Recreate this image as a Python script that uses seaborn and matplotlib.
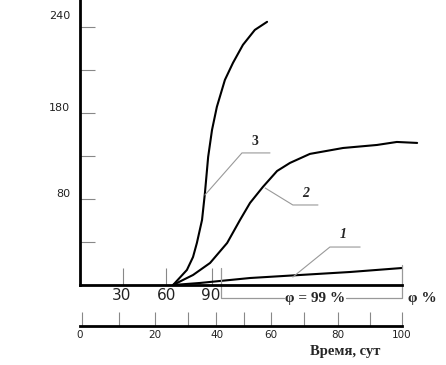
import matplotlib
matplotlib.use('Agg')
import matplotlib.pyplot as plt
import pandas as pd
import seaborn as sns

# curves (time in days, value)
c1_t = [28.9, 37.3, 52.8, 68.3, 83.9, 100.0]
c1_v = [0, 1.9, 6.5, 9.3, 12.1, 15.8]
c2_t = [28.9, 32.0, 35.1, 40.4, 45.7, 49.7, 52.8, 56.8, 61.2, 65.2, 71.4, 81.7, 92.2, 98.4, 104.7]
c2_v = [0, 4.7, 9.3, 20.5, 39.1, 60.5, 76.3, 91.2, 106.0, 113.5, 121.9, 127.4, 130.2, 133.0, 132.1]
c3_t = [28.9, 33.2, 35.1, 36.3, 37.9, 38.8, 39.8, 41.0, 42.5, 45.0, 47.5, 50.6, 54.3, 58.1]
c3_v = [0, 14.0, 26.0, 39.1, 60.5, 85.6, 119.1, 144.2, 165.6, 190.7, 206.5, 223.3, 237.2, 244.7]

# y axis
ytick_marks = [40, 80, 120, 160, 200, 240]
ylab_pos = [85.6, 165.6, 251.2]
ylab = ['80', '180', '240']

# upper x axis
xtick_marks = [13.4, 26.7, 41.0]
xlab_pos = [13.0, 27.0, 40.7]
xlab = ['30', '60', '90']

# lower time axis
sec_marks = [0, 11.5, 22.7, 33.2, 41.9, 50.6, 59.0, 69.3, 80.1, 90.1, 100]
sec_lab_pos = [-0.6, 22.7, 42.2, 59.0, 80.1, 100]
sec_lab = ['0', '20', '40', '60', '80', '100']

# curve number labels and their leader lines
num_labels = ['3', '2', '1']
num_x = [54.3, 70.2, 81.7]
num_y = [133, 84.7, 46.5]
lead3_x, lead3_y = [38.8, 50.3, 59.0], [83.7, 122.8, 122.8]
lead2_x, lead2_y = [57.5, 66.1, 73.9], [90.2, 74.4, 74.4]
lead1_x, lead1_y = [66.1, 77.6, 87.0], [7.4, 35.3, 35.3]

df = pd.concat([
    pd.DataFrame({'t': c1_t, 'v': c1_v, 'curve': '1'}),
    pd.DataFrame({'t': c2_t, 'v': c2_v, 'curve': '2'}),
    pd.DataFrame({'t': c3_t, 'v': c3_v, 'curve': '3'}),
])

sns.set_theme(style='white')
plt.rcParams['font.family'] = ['DejaVu Sans']

W, H = 446, 365
fig = plt.figure(figsize=(W / 100, H / 100), dpi=100)
ax = fig.add_axes([80 / W, 80 / H, 322 / W, 285 / H])
ax.set_facecolor('none')

sns.lineplot(data=df, x='t', y='v', units='curve', estimator=None, sort=False,
             color='black', lw=1.5, ax=ax, legend=False)
for ln in ax.lines:
    ln.set_clip_on(False)

ax.set_xlim(0, 100)
ax.set_ylim(0, 265)
ax.set_xlabel('')
ax.set_ylabel('')
for s in ['top', 'right']:
    ax.spines[s].set_visible(False)
for s in ['left', 'bottom']:
    ax.spines[s].set_linewidth(2)
    ax.spines[s].set_color('black')

ax.set_yticks(ylab_pos, ylab)
ax.set_yticks(ytick_marks, minor=True)
ax.set_xticks(xlab_pos, xlab)
ax.set_xticks(xtick_marks, minor=True)
ax.tick_params(left=True, bottom=True)
ax.tick_params(axis='y', which='major', length=0, pad=7, labelsize=8, labelcolor='#222')
ax.tick_params(axis='x', which='major', length=0, pad=2, labelsize=11, labelcolor='#222')
ax.tick_params(which='minor', left=True, bottom=True, direction='in', width=0.8, color='#888')
ax.tick_params(axis='y', which='minor', length=11)
ax.tick_params(axis='x', which='minor', length=12)

gray = '#999999'
for lx, ly in [(lead3_x, lead3_y), (lead2_x, lead2_y), (lead1_x, lead1_y)]:
    ax.plot(lx, ly, color=gray, lw=0.8, clip_on=False)

serif = ['Liberation Serif', 'DejaVu Serif']
for lab, x, y in zip(num_labels, num_x, num_y):
    ax.text(x, y, lab, ha='center', va='center', fontsize=10, family=serif,
            weight='bold', style='normal' if lab == '3' else 'italic')

# humidity bracket
ax.plot([43.8, 43.8, 63.3], [15.8, -12.1, -12.1], color=gray, lw=0.9, clip_on=False)
ax.plot([82.6, 100, 100], [-12.1, -12.1, 18.6], color=gray, lw=0.9, clip_on=False)
ax.text(72.9, -12.1, 'φ = 99 %', ha='center', va='center', fontsize=11,
        family=serif, weight='bold')
ax.text(106.4, -12.1, 'φ %', ha='center', va='center', fontsize=11,
        family=serif, weight='bold')

# lower time axis
ax2 = fig.add_axes([80 / W, 39 / H, 322 / W, 0.001])
ax2.set_facecolor('none')
ax2.set_xlim(0, 100)
ax2.set_yticks([])
for s in ['top', 'right', 'left']:
    ax2.spines[s].set_visible(False)
ax2.spines['bottom'].set_linewidth(2)
ax2.spines['bottom'].set_color('black')
ax2.xaxis.remove_overlapping_locs = False
ax2.set_xticks(sec_lab_pos, sec_lab)
ax2.set_xticks(sec_marks, minor=True)
ax2.tick_params(axis='x', which='major', bottom=True, length=0, pad=3, labelsize=7.5,
                labelcolor='#222')
ax2.tick_params(axis='x', which='minor', bottom=True, direction='in', length=10,
                width=0.8, color='#888')

fig.text(345 / W, 1 - 352 / H, 'Время, сут', ha='center', va='center', fontsize=10.5,
         family=serif, weight='bold')

fig.savefig('out.png', dpi=100)
